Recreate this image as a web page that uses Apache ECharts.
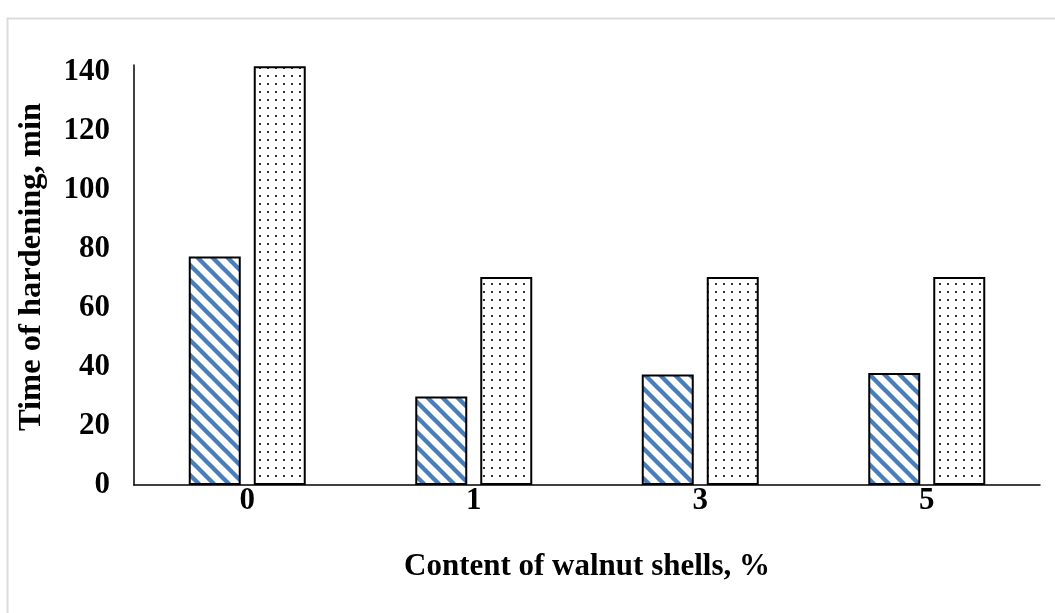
<!DOCTYPE html>
<html>
<head>
<meta charset="utf-8">
<script src="https://cdn.jsdelivr.net/npm/echarts@6/dist/echarts.min.js"></script>
<style>
html,body{margin:0;padding:0;background:#fff;}
#chart{width:1055px;height:613px;}
</style>
</head>
<body>
<div id="chart"></div>
<script>
const categories = ['0', '1', '3', '5'];
const seriesStriped = [77.5, 30, 37.5, 38];
const seriesDotted = [142, 70.5, 70.5, 70.5];
const yTicks = [0, 20, 40, 60, 80, 100, 120, 140];

function stripePattern() {
  const c = document.createElement('canvas');
  const s = 15;
  c.width = s; c.height = s;
  const g = c.getContext('2d');
  g.fillStyle = '#fff';
  g.fillRect(0, 0, s, s);
  g.strokeStyle = '#4a7ebb';
  g.lineWidth = 4.4;
  for (let k = -1; k <= 1; k++) {
    g.beginPath();
    g.moveTo(k * s - 2, -2);
    g.lineTo(k * s + s + 2, s + 2);
    g.stroke();
  }
  return c;
}
function dotPattern() {
  const c = document.createElement('canvas');
  c.width = 8; c.height = 8;
  const g = c.getContext('2d');
  g.fillStyle = '#fff';
  g.fillRect(0, 0, 8, 8);
  g.fillStyle = '#333';
  g.fillRect(3, 3, 2, 2);
  return c;
}

const font = '"Liberation Serif", "Times New Roman", serif';
const chart = echarts.init(document.getElementById('chart'), null, {renderer: 'canvas'});
chart.setOption({
  animation: false,
  backgroundColor: '#fff',
  graphic: [{
    type: 'rect', left: 5, top: 16, shape: {width: 1100, height: 700},
    style: {fill: 'none', stroke: '#dcdcdc', lineWidth: 2}, silent: true
  }],
  grid: {left: 134, right: 15, top: 65, bottom: 128},
  xAxis: {
    type: 'category',
    data: categories,
    name: 'Content of walnut shells, %',
    nameLocation: 'middle',
    nameGap: 66,
    nameTextStyle: {fontFamily: font, fontWeight: 'bold', fontSize: 31, color: '#000'},
    axisLine: {lineStyle: {color: '#000', width: 1.5}},
    axisTick: {show: false},
    axisLabel: {fontFamily: font, fontWeight: 'bold', fontSize: 31, color: '#000', margin: 0}
  },
  yAxis: {
    type: 'value',
    min: 0, max: 142.4, interval: 20,
    name: 'Time of hardening, min',
    nameLocation: 'middle',
    nameGap: 86,
    nameTextStyle: {fontFamily: font, fontWeight: 'bold', fontSize: 32.5, color: '#000', padding: [0, 0, 0, 16]},
    axisLine: {show: true, lineStyle: {color: '#000', width: 1.5}},
    axisTick: {show: false},
    splitLine: {show: false},
    axisLabel: {
      fontFamily: font, fontWeight: 'bold', fontSize: 31, color: '#000', margin: 24,
      showMaxLabel: false,
      formatter: v => (yTicks.indexOf(v) >= 0 ? String(v) : '')
    }
  },
  series: [
    {
      type: 'bar', data: seriesStriped, barWidth: 52, barGap: '25%',
      itemStyle: {color: {image: stripePattern(), repeat: 'repeat'}, borderColor: '#000', borderWidth: 2}
    },
    {
      type: 'bar', data: seriesDotted, barWidth: 52,
      itemStyle: {color: {image: dotPattern(), repeat: 'repeat'}, borderColor: '#000', borderWidth: 2}
    }
  ]
});
</script>
</body>
</html>
